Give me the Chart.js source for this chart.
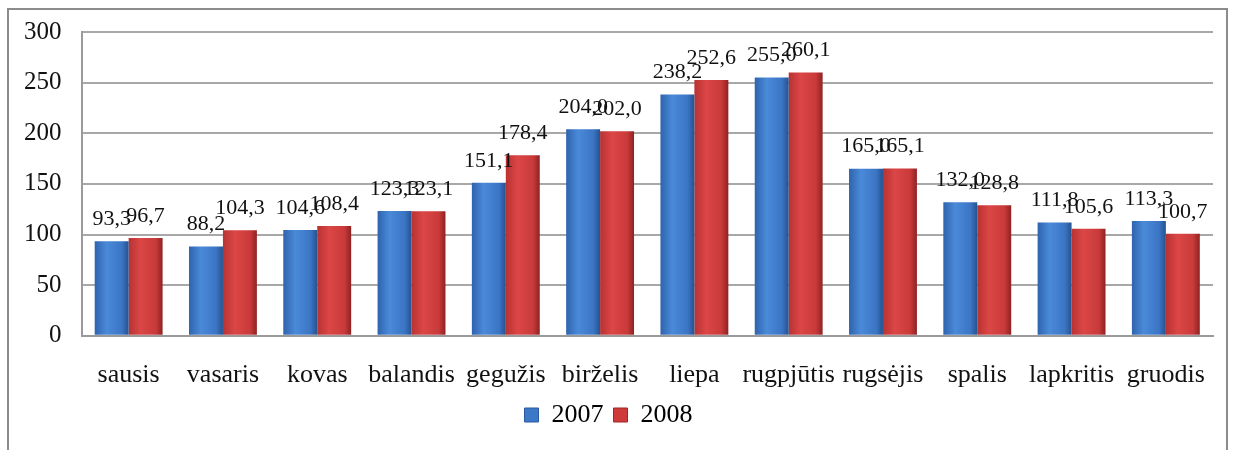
<!DOCTYPE html>
<html>
<head>
<meta charset="utf-8">
<script src="https://cdn.jsdelivr.net/npm/chart.js@4"></script>
<style>
  body { margin: 0; background: #fff; }
  #wrap { position: absolute; left: 0; top: 0; width: 1233px; height: 450px; }
  #frame { position: absolute; left: 7px; top: 8px; width: 1221px; height: 470px; border: 2px solid #8c8c8c; box-sizing: border-box; }
</style>
</head>
<body>
<div id="frame"></div>
<div id="wrap"><canvas id="grafico"></canvas></div>
<script>
// Datos del grafico
const menesiai = ["sausis", "vasaris", "kovas", "balandis", "gegužis", "birželis",
  "liepa", "rugpjūtis", "rugsėjis", "spalis", "lapkritis", "gruodis"];
const metai2007 = [93.3, 88.2, 104.6, 123.3, 151.1, 204.0, 238.2, 255.0, 165.0, 132.0, 111.8, 113.3];
const metai2008 = [96.7, 104.3, 108.4, 123.1, 178.4, 202.0, 252.6, 260.1, 165.1, 128.8, 105.6, 100.7];
const yTicks = [0, 50, 100, 150, 200, 250, 300];

const serif = "'Liberation Serif', 'Times New Roman', serif";
const catPct = 0.72;

// gradiente horizontal para cada barra (efecto 3D)
function gradiente(ctx, colores) {
  const chart = ctx.chart;
  const x = chart.scales && chart.scales.x;
  if (!x || !chart.chartArea || ctx.dataIndex === undefined) return colores[1];
  const centro = x.getPixelForValue(ctx.dataIndex);
  const grupo = (x.width / menesiai.length) * catPct;
  const ancho = grupo / 2;
  const izq = centro - grupo / 2 + ctx.datasetIndex * ancho;
  const g = chart.ctx.createLinearGradient(izq, 0, izq + ancho, 0);
  g.addColorStop(0, colores[0]);
  g.addColorStop(0.35, colores[1]);
  g.addColorStop(0.8, colores[2]);
  g.addColorStop(1, colores[3]);
  return g;
}

const azul = ["#2f63ad", "#4a8ad9", "#3b75c4", "#26528f"];
const rojo = ["#b83232", "#dc4646", "#c93a3a", "#8f2222"];

const etiquetas = {
  id: "etiquetas",
  afterDatasetsDraw(chart) {
    const ctx = chart.ctx;
    ctx.save();
    ctx.font = "22px " + serif;
    ctx.fillStyle = "#111";
    ctx.textAlign = "center";
    ctx.textBaseline = "bottom";
    chart.data.datasets.forEach((ds, di) => {
      chart.getDatasetMeta(di).data.forEach((bar, i) => {
        const txt = ds.data[i].toFixed(1).replace(".", ",");
        ctx.fillText(txt, bar.x, bar.y - 11);
      });
    });
    ctx.restore();
  }
};

const ctx = document.getElementById("grafico");

const chart = new Chart(ctx, {
  type: "bar",
  data: {
    labels: menesiai,
    datasets: [
      {
        label: "2007",
        data: metai2007,
        backgroundColor: (c) => gradiente(c, azul),
        borderWidth: 0,
        categoryPercentage: catPct,
        barPercentage: 1.0,
      },
      {
        label: "2008",
        data: metai2008,
        backgroundColor: (c) => gradiente(c, rojo),
        borderWidth: 0,
        categoryPercentage: catPct,
        barPercentage: 1.0,
      },
    ],
  },
  options: {
    responsive: true,
    maintainAspectRatio: false,
    animation: false,
    layout: { padding: { left: 4, right: 20, top: 32, bottom: 12 } },
    plugins: {
      legend: {
        position: "bottom",
        labels: {
          color: "#111",
          font: { family: serif, size: 26 },
          boxWidth: 14,
          boxHeight: 14,
          padding: 10,
          generateLabels: (chart) => chart.data.datasets.map((ds, i) => ({
            text: ds.label,
            fillStyle: i === 0 ? "#3b78c8" : "#cf3b3b",
            strokeStyle: i === 0 ? "#2a5a9c" : "#9c2828",
            lineWidth: 1,
            datasetIndex: i,
          })),
        },
      },
      tooltip: { enabled: false },
    },
    scales: {
      x: {
        grid: { display: false, drawTicks: false },
        border: { color: "#9a9a9a", width: 2 },
        ticks: {
          color: "#111",
          font: { family: serif, size: 26 },
          padding: 24,
          maxRotation: 0,
          autoSkip: false,
        },
        afterFit: (axis) => { axis.height -= 23; },
      },
      y: {
        min: 0,
        max: 300,
        afterBuildTicks: (axis) => { axis.ticks = yTicks.map((v) => ({ value: v })); },
        afterFit: (axis) => { axis.paddingTop = 0; axis.paddingBottom = 0; },
        grid: { color: "#a8a8a8", lineWidth: 2, drawTicks: false },
        border: { color: "#9a9a9a", width: 2 },
        ticks: {
          color: "#111",
          font: { family: serif, size: 25 },
          padding: 20,
        },
      },
    },
  },
  plugins: [etiquetas],
});
</script>
</body>
</html>
